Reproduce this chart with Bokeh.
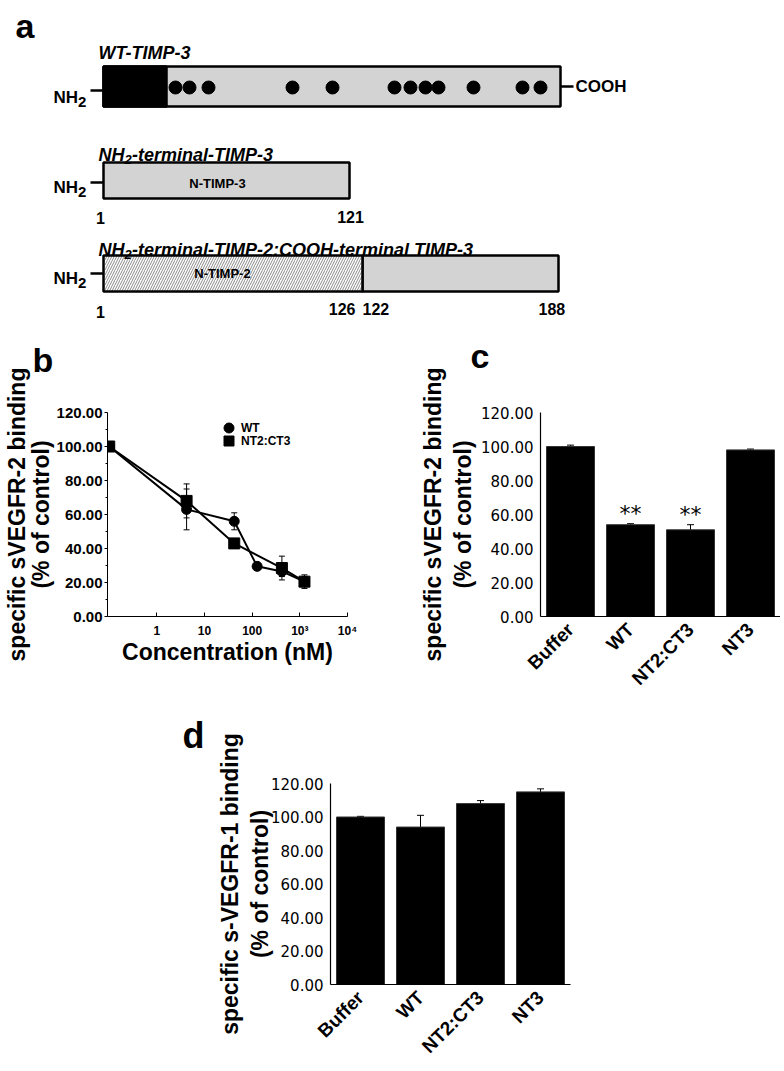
from math import pi
from bokeh.plotting import figure
from bokeh.layouts import column, row
from bokeh.models import (Range1d, FactorRange, ColumnDataSource, Whisker, TeeHead, Title,
                          Legend, LegendItem, FixedTicker, PrintfTickFormatter, LinearAxis, CategoricalAxis)
from bokeh.core.properties import value
from bokeh.embed import file_html
from bokeh.resources import INLINE

# ---------------- data ----------------
# panel b : dose response (concentration in nM, % of control)
conc_wt = [0.1, 4.2, 42, 127, 420, 1250]
binding_wt = [100, 63, 56, 29.5, 26.5, 20.5]
err_wt = [1, 12, 5, 1.5, 3, 3]
conc_nt2 = [0.1, 4.2, 42, 420, 1250]
binding_nt2 = [100, 68, 43, 28.5, 20.5]
err_nt2 = [1, 10, 1.5, 7, 4]
b_xticks = [1, 10, 100, 1000, 10000]
b_xtick_labels = ["1", "10", "100", "10³", "10⁴"]
y_ticks = [0, 20, 40, 60, 80, 100, 120]
y_minor = [10, 30, 50, 70, 90, 110]

# panel c : sVEGFR-2 binding
groups = ["Buffer", "WT", "NT2:CT3", "NT3"]
c_values = [100, 54, 51, 98]
c_err = [0.8, 0.6, 3, 0.5]
c_sig = ["", "**", "**", ""]

# panel d : s-VEGFR-1 binding
d_values = [100, 94, 108, 115]
d_err = [0.4, 7, 1.8, 1.8]

# panel a : schematic (diagram units)
wt_box = [95, 552]
wt_black_end = 158
wt_dots = [167, 181, 200, 284, 324, 386, 402, 417, 430, 465, 514, 532]
nt3_box = [95, 341]
chim_hatch = [95, 354]
chim_grey = [354, 550]
row_tops = [58, 154, 247]
row_bottoms = [98, 190, 283]

FONT = value("Liberation Sans")
FONT2 = value("DejaVu Sans")

# ---------------- panel a ----------------
pa = figure(width=780, height=328, x_range=Range1d(-8, 772), y_range=Range1d(320, -8),
            x_axis_location=None, y_axis_location=None, output_backend="svg",
            toolbar_location=None, min_border=0)
pa.grid.visible = False
pa.outline_line_color = None

pa.quad(left=[wt_box[0], nt3_box[0], chim_grey[0]], right=[wt_box[1], nt3_box[1], chim_grey[1]],
        top=row_tops, bottom=row_bottoms,
        fill_color="#d3d3d3", line_color="black", line_width=2.5)
pa.quad(left=[wt_box[0]], right=[wt_black_end], top=[row_tops[0]], bottom=[row_bottoms[0]],
        fill_color="black", line_color="black", line_width=2.5)
pa.quad(left=[chim_hatch[0]], right=[chim_hatch[1]], top=[row_tops[2]], bottom=[row_bottoms[2]],
        fill_color="white", hatch_pattern="/", hatch_color="#8a8a8a", hatch_scale=5, hatch_weight=1,
        line_color="black", line_width=2.5)
pa.scatter(wt_dots, [(row_tops[0] + row_bottoms[0]) / 2 + 1] * len(wt_dots), size=13, color="black")

dash_y = [82, 174, 265]
pa.segment(x0=[82, 82, 82, wt_box[1]], x1=[95, 95, 95, wt_box[1] + 13],
           y0=dash_y + [78], y1=dash_y + [78], line_color="black", line_width=2.5)


def txt(x, y, s, size, style="bold", align="left", baseline="alphabetic", font=FONT):
    pa.text(x=[x], y=[y], text=[s], text_font=font, text_font_size=size, text_font_style=style,
            text_align=align, text_baseline=baseline, text_color="black")


txt(7, 17, "a", "34px")
txt(90, 44, "WT-TIMP-3", "18px", "bold italic")
for yb, rest in [(146, "-terminal-TIMP-3"), (241, "-terminal-TIMP-2:COOH-terminal TIMP-3")]:
    txt(90, yb, "NH", "18px", "bold italic")
    txt(116, yb + 5, "2", "13px", "bold italic")
    txt(123.5, yb, rest, "18px", "bold italic")
for yb in [89, 179, 270]:
    txt(45, yb, "NH", "17px")
    txt(69.5, yb + 4, "2", "15px")
txt(567, 78, "COOH", "17px", baseline="middle")
txt(209, 175, "N-TIMP-3", "13px", align="center", baseline="middle")
txt(214, 265, "N-TIMP-2", "13px", align="center", baseline="middle")
txt(92, 209, "1", "16px", align="center")
txt(342, 208, "121", "16px", align="center")
txt(92, 303, "1", "16px", align="center")
txt(347, 300, "126", "16px", align="right")
txt(354, 300, "122", "16px", align="left")
txt(530, 300, "188", "16px", align="left")


def letter(p, s, offset, gap, size="34px", categorical=False):
    # invisible spacer axis between the frame and the panel letter (title)
    cls = CategoricalAxis if categorical else LinearAxis
    sp = cls(ticker=FixedTicker(ticks=[]), axis_line_color=None,
             major_tick_line_color=None, minor_tick_line_color=None, major_tick_out=0,
             major_tick_in=0, major_label_standoff=0, axis_label=" ",
             axis_label_text_font_size="1px", axis_label_text_color=None,
             axis_label_standoff=gap)
    p.add_layout(sp, "above")
    p.title = Title(text=s, align="left", offset=offset, text_font_size=size, text_font_style="bold",
                    text_font="Liberation Sans", text_color="black")


def style_ylabel(p, text, size, lh, standoff):
    p.yaxis.axis_label = text
    p.yaxis.axis_label_text_font = "Liberation Sans"
    p.yaxis.axis_label_text_font_size = size
    p.yaxis.axis_label_text_font_style = "bold"
    p.yaxis.axis_label_text_color = "black"
    p.yaxis.axis_label_text_line_height = lh
    p.yaxis.axis_label_standoff = standoff


# ---------------- panel b ----------------
pb = figure(width=400, height=377, x_axis_type="log", x_range=Range1d(0.092, 1e4), y_range=Range1d(0, 120),
            output_backend="svg", toolbar_location=None,
            min_border_left=107, min_border_right=53, min_border_top=84, min_border_bottom=89)
pb.grid.visible = False
pb.outline_line_color = None

src_wt = ColumnDataSource(dict(x=conc_wt, y=binding_wt,
                               lo=[v - e for v, e in zip(binding_wt, err_wt)],
                               hi=[v + e for v, e in zip(binding_wt, err_wt)]))
src_nt = ColumnDataSource(dict(x=conc_nt2, y=binding_nt2,
                               lo=[v - e for v, e in zip(binding_nt2, err_nt2)],
                               hi=[v + e for v, e in zip(binding_nt2, err_nt2)]))
for s in (src_wt, src_nt):
    pb.add_layout(Whisker(source=s, base="x", lower="lo", upper="hi", line_color="black", line_width=1,
                          upper_head=TeeHead(size=6, line_color="black", line_width=1),
                          lower_head=TeeHead(size=6, line_color="black", line_width=1)))
pb.line("x", "y", source=src_wt, line_color="black", line_width=2)
pb.line("x", "y", source=src_nt, line_color="black", line_width=2)
r_wt = pb.scatter("x", "y", source=src_wt, marker="circle", size=10, color="black")
r_nt = pb.scatter("x", "y", source=src_nt, marker="square", size=11, color="black")

pb.xaxis.ticker = FixedTicker(ticks=b_xticks)
pb.xaxis.major_label_overrides = dict(zip(b_xticks, b_xtick_labels))
pb.xaxis.major_tick_in = 4
pb.xaxis.major_tick_out = 0
pb.xaxis.minor_tick_line_color = None
pb.xaxis.major_label_standoff = 7
pb.xaxis.major_label_text_font_size = "12px"
pb.xaxis.major_label_text_font_style = "bold"
pb.xaxis.major_label_text_font = "Liberation Sans"
pb.xaxis.axis_label = "Concentration (nM)"
pb.xaxis.axis_label_text_font = "Liberation Sans"
pb.xaxis.axis_label_text_font_size = "23px"
pb.xaxis.axis_label_text_font_style = "bold"
pb.xaxis.axis_label_text_color = "black"
pb.xaxis.axis_label_standoff = -2
pb.yaxis.ticker = FixedTicker(ticks=y_ticks, minor_ticks=y_minor)
pb.yaxis.formatter = PrintfTickFormatter(format="%.2f")
pb.yaxis.major_tick_out = 3
pb.yaxis.major_tick_in = 0
pb.yaxis.minor_tick_out = 2
pb.yaxis.minor_tick_in = 0
pb.yaxis.major_label_standoff = 2
pb.yaxis.major_label_text_font_size = "15px"
pb.yaxis.major_label_text_font_style = "bold"
pb.yaxis.major_label_text_font = "Liberation Sans"
for ax in (pb.xaxis, pb.yaxis):
    ax.axis_line_color = "black"
    ax.major_tick_line_color = "black"
    ax.major_label_text_color = "black"
style_ylabel(pb, "specific sVEGFR-2 binding\n(% of control)", "23px", 0.9, 0)
letter(pb, "b", -75, 25)

for item, loc in [(LegendItem(label="WT", renderers=[r_wt]), (109, 176)),
                  (LegendItem(label="NT2:CT3", renderers=[r_nt]), (109, 163))]:
    pb.add_layout(Legend(items=[item], location=loc, label_text_font_size="12px",
                         label_text_font_style="bold", label_text_font="Liberation Sans",
                         label_text_color="black", glyph_width=25, glyph_height=25, label_height=13,
                         label_standoff=0, spacing=0, padding=0, margin=0, border_line_color=None,
                         background_fill_alpha=0))


# ---------------- bar panels ----------------
def bar_panel(width, height, mbl, mbr, mbt, mbb, vals, errs):
    p = figure(width=width, height=height, x_range=FactorRange(factors=groups, range_padding=0),
               y_range=Range1d(0, 120), output_backend="svg", toolbar_location=None,
               min_border_left=mbl, min_border_right=mbr, min_border_top=mbt, min_border_bottom=mbb)
    p.grid.visible = False
    p.outline_line_color = None
    src = ColumnDataSource(dict(x=groups, top=vals,
                                lo=[v - e for v, e in zip(vals, errs)],
                                hi=[v + e for v, e in zip(vals, errs)]))
    p.vbar(x="x", top="top", width=0.8, source=src, fill_color="black", line_color="#333333", line_width=1)
    p.add_layout(Whisker(source=src, base="x", lower="lo", upper="hi", line_color="black", line_width=1,
                         upper_head=TeeHead(size=7, line_color="black", line_width=1),
                         lower_head=TeeHead(size=7, line_color="black", line_width=1)))
    p.yaxis.ticker = FixedTicker(ticks=y_ticks)
    p.yaxis.formatter = PrintfTickFormatter(format="%.2f")
    p.yaxis.major_tick_out = 3
    p.yaxis.major_tick_in = 0
    p.yaxis.minor_tick_line_color = None
    p.yaxis.major_label_standoff = 4
    p.yaxis.major_label_text_font_size = "15px"
    p.yaxis.major_label_text_font = "DejaVu Sans"
    p.xaxis.major_label_orientation = pi / 4
    p.xaxis.major_tick_line_color = None
    p.xaxis.major_label_standoff = 4
    p.xaxis.major_label_text_font_size = "19px"
    p.xaxis.major_label_text_font_style = "bold"
    p.xaxis.major_label_text_font = "Liberation Sans"
    for ax in (p.xaxis, p.yaxis):
        ax.axis_line_color = "black"
        ax.axis_line_width = 1.2
        ax.major_label_text_color = "black"
        ax.major_tick_line_color = "black" if ax is p.yaxis else None
    return p


pc = bar_panel(380, 377, 140, 0, 84, 89, c_values, c_err)
pc.text(x=groups, y=[v + e + 6 for v, e in zip(c_values, c_err)], text=c_sig, text_font=FONT2,
        text_font_size="22px", text_align="center", text_baseline="alphabetic", text_color="black")
style_ylabel(pc, "specific sVEGFR-2 binding\n(% of control)", "23px", 1.15, 2)
letter(pc, "c", -70, 29, categorical=True)

pd_ = bar_panel(780, 362, 330, 210, 78, 80, d_values, d_err)
style_ylabel(pd_, "specific s-VEGFR-1 binding\n(% of control)", "23px", 1.15, -5)
letter(pd_, "d", -148, 19, "36px", categorical=True)

layout = column(row(pa), row(column(pb), column(pc)), row(pd_))
open("out.html", "w").write(file_html(layout, INLINE))
